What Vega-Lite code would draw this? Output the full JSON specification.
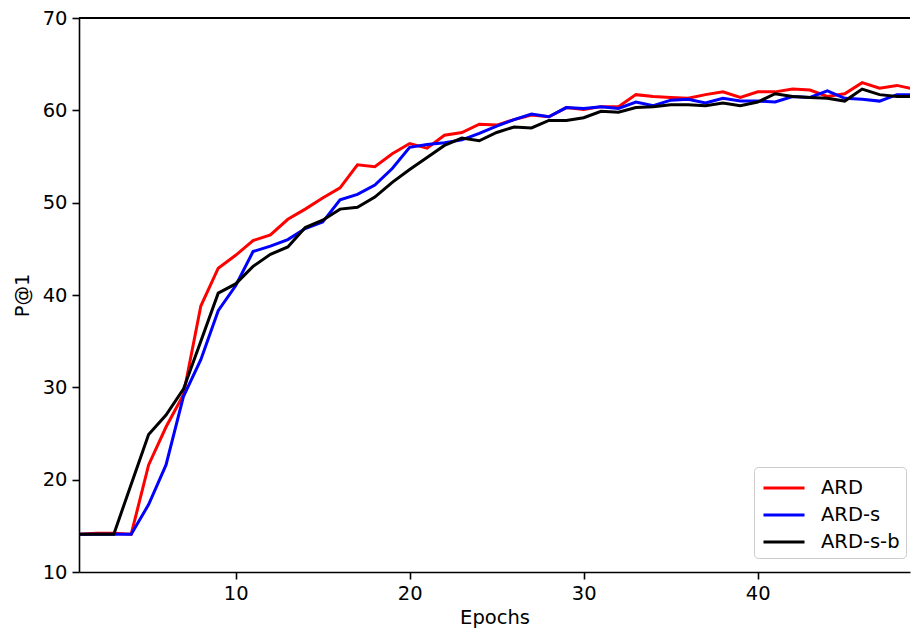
{
  "$schema": "https://vega.github.io/schema/vega-lite/v6.json",
  "width": 831,
  "height": 554,
  "autosize": {"type": "none"},
  "padding": {"left": 79, "top": 18, "right": 1, "bottom": 61},
  "background": "white",
  "config": {
    "font": "DejaVu Sans",
    "view": {"stroke": null},
    "axis": {
      "grid": false,
      "domainColor": "black",
      "domainWidth": 1.6,
      "tickColor": "black",
      "tickWidth": 1.6,
      "tickSize": 7,
      "labelFontSize": 19.5,
      "labelColor": "black",
      "labelPadding": 5,
      "titleFontSize": 19.5,
      "titleFontWeight": "normal",
      "titleColor": "black"
    },
    "legend": {
      "orient": "none",
      "legendX": 675,
      "legendY": 449,
      "strokeColor": "#cccccc",
      "fillColor": "white",
      "cornerRadius": 4,
      "padding": 6,
      "symbolType": "M-1.52,0H1.52",
      "symbolSize": 729,
      "symbolOffset": 9,
      "symbolStrokeWidth": 3,
      "symbolFillColor": "transparent",
      "labelFontSize": 19.5,
      "labelColor": "black",
      "labelOffset": 22,
      "rowPadding": 2,
      "title": null
    }
  },
  "data": {"values": [
    {"epoch":1,"model":"ARD","p1":14.1},{"epoch":2,"model":"ARD","p1":14.2},{"epoch":3,"model":"ARD","p1":14.2},{"epoch":4,"model":"ARD","p1":14.1},{"epoch":5,"model":"ARD","p1":21.6},{"epoch":6,"model":"ARD","p1":25.7},{"epoch":7,"model":"ARD","p1":29.2},{"epoch":8,"model":"ARD","p1":38.8},{"epoch":9,"model":"ARD","p1":42.9},{"epoch":10,"model":"ARD","p1":44.3},
    {"epoch":11,"model":"ARD","p1":45.9},{"epoch":12,"model":"ARD","p1":46.5},{"epoch":13,"model":"ARD","p1":48.2},{"epoch":14,"model":"ARD","p1":49.3},{"epoch":15,"model":"ARD","p1":50.5},{"epoch":16,"model":"ARD","p1":51.6},{"epoch":17,"model":"ARD","p1":54.1},{"epoch":18,"model":"ARD","p1":53.9},{"epoch":19,"model":"ARD","p1":55.3},{"epoch":20,"model":"ARD","p1":56.4},
    {"epoch":21,"model":"ARD","p1":55.9},{"epoch":22,"model":"ARD","p1":57.3},{"epoch":23,"model":"ARD","p1":57.6},{"epoch":24,"model":"ARD","p1":58.5},{"epoch":25,"model":"ARD","p1":58.4},{"epoch":26,"model":"ARD","p1":59.0},{"epoch":27,"model":"ARD","p1":59.5},{"epoch":28,"model":"ARD","p1":59.3},{"epoch":29,"model":"ARD","p1":60.3},{"epoch":30,"model":"ARD","p1":60.1},
    {"epoch":31,"model":"ARD","p1":60.4},{"epoch":32,"model":"ARD","p1":60.4},{"epoch":33,"model":"ARD","p1":61.7},{"epoch":34,"model":"ARD","p1":61.5},{"epoch":35,"model":"ARD","p1":61.4},{"epoch":36,"model":"ARD","p1":61.3},{"epoch":37,"model":"ARD","p1":61.7},{"epoch":38,"model":"ARD","p1":62.0},{"epoch":39,"model":"ARD","p1":61.4},{"epoch":40,"model":"ARD","p1":62.0},
    {"epoch":41,"model":"ARD","p1":62.0},{"epoch":42,"model":"ARD","p1":62.3},{"epoch":43,"model":"ARD","p1":62.2},{"epoch":44,"model":"ARD","p1":61.5},{"epoch":45,"model":"ARD","p1":61.8},{"epoch":46,"model":"ARD","p1":63.0},{"epoch":47,"model":"ARD","p1":62.4},{"epoch":48,"model":"ARD","p1":62.7},{"epoch":49,"model":"ARD","p1":62.3},
    {"epoch":1,"model":"ARD-s","p1":14.1},{"epoch":2,"model":"ARD-s","p1":14.1},{"epoch":3,"model":"ARD-s","p1":14.1},{"epoch":4,"model":"ARD-s","p1":14.1},{"epoch":5,"model":"ARD-s","p1":17.3},{"epoch":6,"model":"ARD-s","p1":21.6},{"epoch":7,"model":"ARD-s","p1":29.0},{"epoch":8,"model":"ARD-s","p1":33.0},{"epoch":9,"model":"ARD-s","p1":38.3},{"epoch":10,"model":"ARD-s","p1":41.0},
    {"epoch":11,"model":"ARD-s","p1":44.7},{"epoch":12,"model":"ARD-s","p1":45.3},{"epoch":13,"model":"ARD-s","p1":46.0},{"epoch":14,"model":"ARD-s","p1":47.2},{"epoch":15,"model":"ARD-s","p1":47.9},{"epoch":16,"model":"ARD-s","p1":50.3},{"epoch":17,"model":"ARD-s","p1":50.9},{"epoch":18,"model":"ARD-s","p1":51.9},{"epoch":19,"model":"ARD-s","p1":53.7},{"epoch":20,"model":"ARD-s","p1":56.0},
    {"epoch":21,"model":"ARD-s","p1":56.3},{"epoch":22,"model":"ARD-s","p1":56.5},{"epoch":23,"model":"ARD-s","p1":56.8},{"epoch":24,"model":"ARD-s","p1":57.5},{"epoch":25,"model":"ARD-s","p1":58.3},{"epoch":26,"model":"ARD-s","p1":59.0},{"epoch":27,"model":"ARD-s","p1":59.6},{"epoch":28,"model":"ARD-s","p1":59.3},{"epoch":29,"model":"ARD-s","p1":60.3},{"epoch":30,"model":"ARD-s","p1":60.2},
    {"epoch":31,"model":"ARD-s","p1":60.4},{"epoch":32,"model":"ARD-s","p1":60.2},{"epoch":33,"model":"ARD-s","p1":60.9},{"epoch":34,"model":"ARD-s","p1":60.5},{"epoch":35,"model":"ARD-s","p1":61.1},{"epoch":36,"model":"ARD-s","p1":61.2},{"epoch":37,"model":"ARD-s","p1":60.8},{"epoch":38,"model":"ARD-s","p1":61.3},{"epoch":39,"model":"ARD-s","p1":61.0},{"epoch":40,"model":"ARD-s","p1":61.0},
    {"epoch":41,"model":"ARD-s","p1":60.9},{"epoch":42,"model":"ARD-s","p1":61.5},{"epoch":43,"model":"ARD-s","p1":61.4},{"epoch":44,"model":"ARD-s","p1":62.1},{"epoch":45,"model":"ARD-s","p1":61.3},{"epoch":46,"model":"ARD-s","p1":61.2},{"epoch":47,"model":"ARD-s","p1":61.0},{"epoch":48,"model":"ARD-s","p1":61.7},{"epoch":49,"model":"ARD-s","p1":61.7},
    {"epoch":1,"model":"ARD-s-b","p1":14.1},{"epoch":2,"model":"ARD-s-b","p1":14.1},{"epoch":3,"model":"ARD-s-b","p1":14.1},{"epoch":4,"model":"ARD-s-b","p1":19.5},{"epoch":5,"model":"ARD-s-b","p1":24.9},{"epoch":6,"model":"ARD-s-b","p1":27.0},{"epoch":7,"model":"ARD-s-b","p1":29.8},{"epoch":8,"model":"ARD-s-b","p1":35.0},{"epoch":9,"model":"ARD-s-b","p1":40.2},{"epoch":10,"model":"ARD-s-b","p1":41.2},
    {"epoch":11,"model":"ARD-s-b","p1":43.1},{"epoch":12,"model":"ARD-s-b","p1":44.4},{"epoch":13,"model":"ARD-s-b","p1":45.2},{"epoch":14,"model":"ARD-s-b","p1":47.3},{"epoch":15,"model":"ARD-s-b","p1":48.1},{"epoch":16,"model":"ARD-s-b","p1":49.3},{"epoch":17,"model":"ARD-s-b","p1":49.5},{"epoch":18,"model":"ARD-s-b","p1":50.6},{"epoch":19,"model":"ARD-s-b","p1":52.2},{"epoch":20,"model":"ARD-s-b","p1":53.6},
    {"epoch":21,"model":"ARD-s-b","p1":54.9},{"epoch":22,"model":"ARD-s-b","p1":56.2},{"epoch":23,"model":"ARD-s-b","p1":57.0},{"epoch":24,"model":"ARD-s-b","p1":56.7},{"epoch":25,"model":"ARD-s-b","p1":57.6},{"epoch":26,"model":"ARD-s-b","p1":58.2},{"epoch":27,"model":"ARD-s-b","p1":58.1},{"epoch":28,"model":"ARD-s-b","p1":58.9},{"epoch":29,"model":"ARD-s-b","p1":58.9},{"epoch":30,"model":"ARD-s-b","p1":59.2},
    {"epoch":31,"model":"ARD-s-b","p1":59.9},{"epoch":32,"model":"ARD-s-b","p1":59.8},{"epoch":33,"model":"ARD-s-b","p1":60.3},{"epoch":34,"model":"ARD-s-b","p1":60.4},{"epoch":35,"model":"ARD-s-b","p1":60.6},{"epoch":36,"model":"ARD-s-b","p1":60.6},{"epoch":37,"model":"ARD-s-b","p1":60.5},{"epoch":38,"model":"ARD-s-b","p1":60.8},{"epoch":39,"model":"ARD-s-b","p1":60.5},{"epoch":40,"model":"ARD-s-b","p1":60.9},
    {"epoch":41,"model":"ARD-s-b","p1":61.8},{"epoch":42,"model":"ARD-s-b","p1":61.5},{"epoch":43,"model":"ARD-s-b","p1":61.4},{"epoch":44,"model":"ARD-s-b","p1":61.3},{"epoch":45,"model":"ARD-s-b","p1":61.0},{"epoch":46,"model":"ARD-s-b","p1":62.3},{"epoch":47,"model":"ARD-s-b","p1":61.7},{"epoch":48,"model":"ARD-s-b","p1":61.5},{"epoch":49,"model":"ARD-s-b","p1":61.5}
  ]},
  "layer": [
    {
      "mark": {"type": "rule", "color": "black", "strokeWidth": 1.6},
      "encoding": {"y": {"datum": 70, "type": "quantitative"}}
    },
    {
      "mark": {"type": "line", "strokeWidth": 3, "clip": true},
      "encoding": {
        "x": {
          "field": "epoch", "type": "quantitative",
          "scale": {"domain": [1, 48.75], "nice": false, "zero": false},
          "axis": {"title": "Epochs", "values": [10, 20, 30, 40], "titlePadding": 6}
        },
        "y": {
          "field": "p1", "type": "quantitative",
          "scale": {"domain": [10, 70], "nice": false, "zero": false},
          "axis": {"title": "P@1", "values": [10, 20, 30, 40, 50, 60, 70], "titlePadding": 10}
        },
        "color": {
          "field": "model", "type": "nominal",
          "scale": {"domain": ["ARD", "ARD-s", "ARD-s-b"], "range": ["#ff0000", "#0000ff", "#000000"]},
          "legend": {"title": null}
        }
      }
    }
  ]
}
